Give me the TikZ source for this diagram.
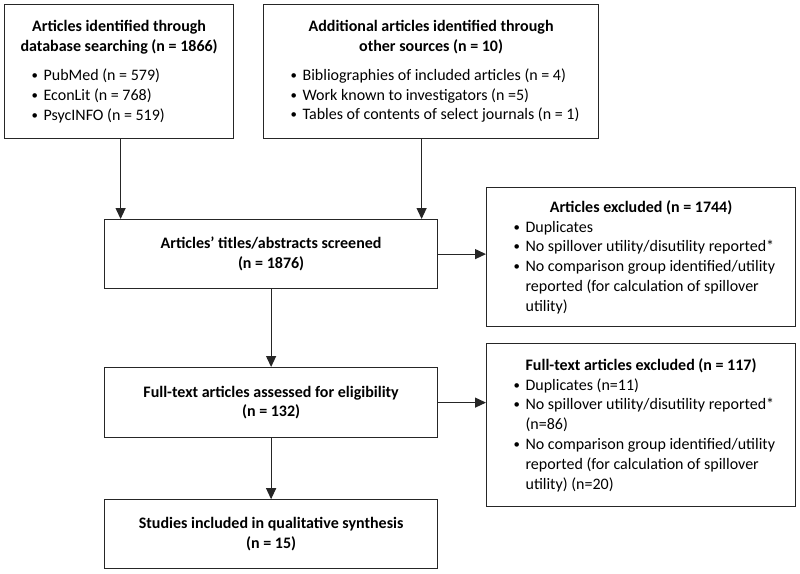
\documentclass[tikz,border=0pt]{standalone}
\usepackage{fontspec}
\setmainfont{Carlito}
\usetikzlibrary{positioning,arrows.meta}
\newcommand{\pitem}{\par\noindent\hangindent=31pt\hangafter=1\hspace*{19pt}\makebox[12pt][l]{\raisebox{1pt}{\scalebox{0.8}{\textbullet}}}}
\newcommand{\flowfont}{\fontsize{16}{19.8}\selectfont}
\newcommand{\boxtext}[2]{\begin{minipage}{#1}\raggedright#2\end{minipage}}

\begin{document}
\begin{tikzpicture}[x=1pt, y=-1pt,
	every node/.style={font=\flowfont},
	box/.style={draw=black!85, line width=1.2pt, anchor=north west, inner xsep=8pt, inner ysep=0pt},
	arr/.style={draw=black!85, line width=1.2pt, -{Triangle[length=11pt,width=10pt]}}]
	\useasboundingbox (0,0) rectangle (800,573);
	% identification
	\node[box, minimum height=134pt] (dbsearch) at (4,4) {\boxtext{213pt}{%
		{\centering\textbf{Articles identified through\\database searching (n = 1866)}\par}\vspace{9pt}
		\pitem PubMed (n = 579)
		\pitem EconLit (n = 768)
		\pitem PsycINFO (n = 519)}};
	\node[box, minimum height=134pt] (othersrc) at (263,4) {\boxtext{319pt}{%
		{\centering\textbf{Additional articles identified through\\other sources (n = 10)}\par}\vspace{9pt}
		\pitem Bibliographies of included articles (n = 4)
		\pitem Work known to investigators (n =5)
		\pitem Tables of contents of select journals (n = 1)}};
	% screening
	\node[box, minimum height=69pt] (screened) at (104,219) {\boxtext{317pt}{%
		\centering\textbf{Articles’ titles/abstracts screened\\(n = 1876)}}};
	\node[box, minimum height=139pt] (excl1) at (486,187) {\boxtext{293pt}{%
		{\centering\textbf{Articles excluded (n = 1744)}\par}
		\pitem Duplicates
		\pitem No spillover utility/disutility reported*
		\pitem No comparison group identified/utility\newline reported (for calculation of spillover\newline utility)}};
	% eligibility
	\node[box, minimum height=70pt] (fulltext) at (104,367) {\boxtext{317pt}{%
		\centering\textbf{Full-text articles assessed for eligibility\\(n = 132)}}};
	\node[box, minimum height=163pt] (excl2) at (486,343) {\boxtext{293pt}{%
		{\centering\textbf{Full-text articles excluded (n = 117)}\par}
		\pitem Duplicates (n=11)
		\pitem No spillover utility/disutility reported*\newline (n=86)
		\pitem No comparison group identified/utility\newline reported (for calculation of spillover\newline utility) (n=20)}};
	% included
	\node[box, minimum height=69pt, below=61pt of fulltext.south west, anchor=north west] (included) {\boxtext{317pt}{%
		\centering\textbf{Studies included in qualitative synthesis\\(n = 15)}}};

	\draw[arr] ([xshift=1.5pt]dbsearch.south) -- ([xshift=1.5pt]dbsearch.south |- screened.north);
	\draw[arr] ([xshift=-9.5pt]othersrc.south) -- ([xshift=-9.5pt]othersrc.south |- screened.north);
	\draw[arr] (screened.east) -- (screened.east -| excl1.west);
	\draw[arr] (screened.south) -- (fulltext.north);
	\draw[arr] (fulltext.east) -- (fulltext.east -| excl2.west);
	\draw[arr] (fulltext.south) -- (included.north);
\end{tikzpicture}
\end{document}
